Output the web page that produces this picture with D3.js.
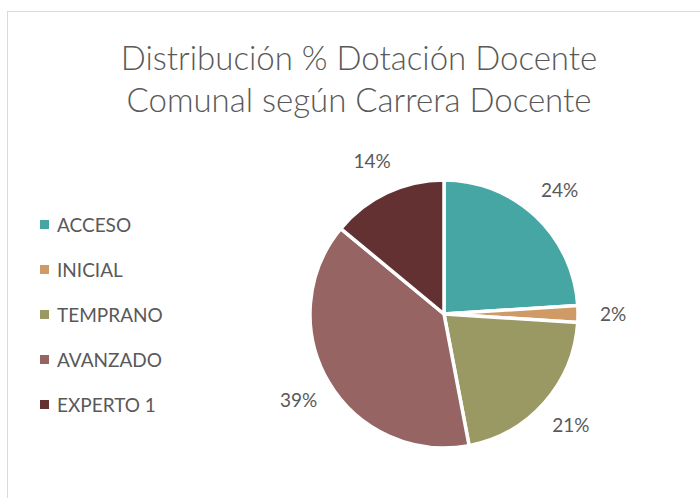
<!DOCTYPE html>
<html>
<head>
<meta charset="utf-8">
<script src="https://cdn.jsdelivr.net/npm/d3@7"></script>
<style>
  body { margin: 0; background: #fff; }
  text { font-family: Lato, "Open Sans", sans-serif; fill: #595959; }
</style>
</head>
<body>
<div id="chart"></div>
<script>
// chart size
const width = 700
const height = 498

// data
const categories = ["ACCESO", "INICIAL", "TEMPRANO", "AVANZADO", "EXPERTO 1"]
const values = [24, 2, 21, 39, 14]
const colors = ["#46a6a3", "#cf9a66", "#9a9963", "#966563", "#633131"]
const titleLines = ["Distribución % Dotación Docente", "Comunal según Carrera Docente"]

const data = categories.map((c, i) => ({ name: c, value: values[i] }))

const svg = d3.select("#chart")
  .append("svg")
  .attr("width", width)
  .attr("height", height)

// chart frame
svg.append("rect")
  .attr("x", 7.5).attr("y", 11.5)
  .attr("width", 720).attr("height", 520)
  .attr("fill", "none")
  .attr("stroke", "#d9d9d9")

// title
svg.append("g").selectAll("text")
  .data(titleLines)
  .enter()
  .append("text")
  .attr("x", 359)
  .attr("y", (d, i) => 70 + i * 42)
  .attr("text-anchor", "middle")
  .style("font-size", "33px")
  .style("font-weight", 300)
  .text(d => d)

// legend
const legend = svg.append("g").selectAll("g")
  .data(data)
  .enter()
  .append("g")
  .attr("transform", (d, i) => `translate(40, ${225 + i * 45})`)

legend.append("rect")
  .attr("x", 0).attr("y", -5)
  .attr("width", 9).attr("height", 9)
  .attr("fill", (d, i) => colors[i])

legend.append("text")
  .attr("x", 17)
  .attr("y", 7)
  .style("font-size", "19px")
  .text(d => d.name)

// pie
const cx = 444, cy = 314, r = 134
const pie = d3.pie().sort(null).value(d => d.value)
const arc = d3.arc().innerRadius(0).outerRadius(r)
const labelArc = d3.arc().innerRadius(r + 35).outerRadius(r + 35)

const g = svg.append("g").attr("transform", `translate(${cx},${cy})`)
const arcs = pie(data)

g.selectAll("path")
  .data(arcs)
  .enter()
  .append("path")
  .attr("d", arc)
  .attr("fill", (d, i) => colors[i])
  .attr("stroke", "#fff")
  .attr("stroke-width", 3.5)
  .attr("stroke-linejoin", "round")

g.selectAll("text.lbl")
  .data(arcs)
  .enter()
  .append("text")
  .attr("class", "lbl")
  .attr("transform", d => `translate(${labelArc.centroid(d)})`)
  .attr("text-anchor", "middle")
  .attr("dy", "0.35em")
  .style("font-size", "19px")
  .text(d => d.data.value + "%")
</script>
</body>
</html>
